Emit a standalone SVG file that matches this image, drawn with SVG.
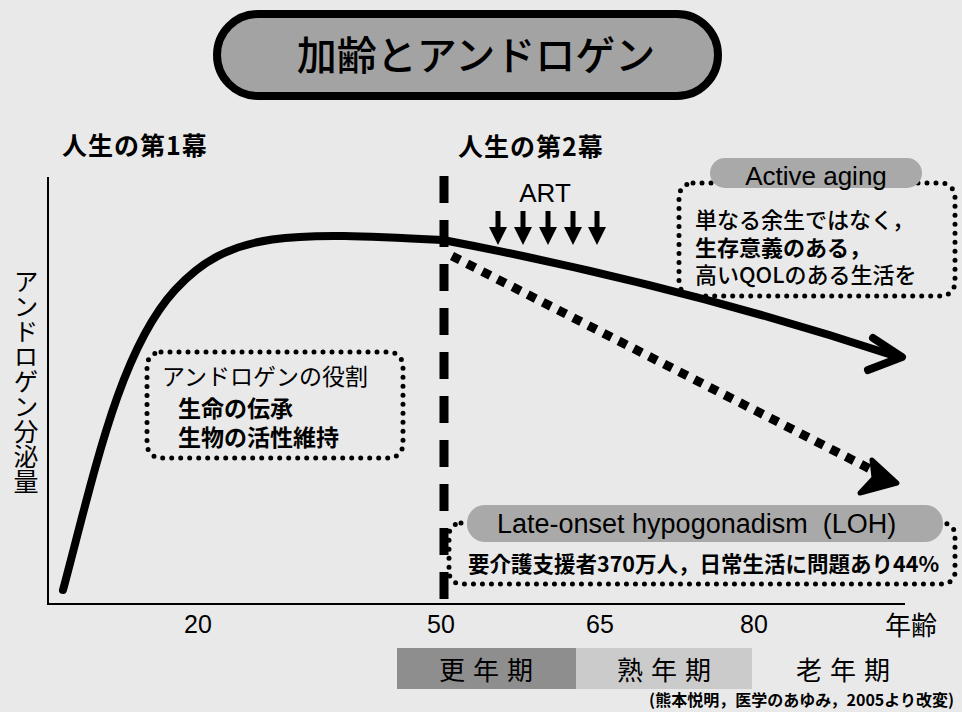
<svg xmlns="http://www.w3.org/2000/svg" width="962" height="712" viewBox="0 0 962 712">
<defs>
<style>
.jp{font-family:"Noto Sans CJK JP","Liberation Sans",sans-serif;fill:#000}
.en{font-family:"Liberation Sans",Arial,sans-serif;fill:#000}
.dot{fill:none;stroke:#000;stroke-width:5;stroke-linecap:round;stroke-dasharray:0 9}
.pill{fill:#a9a9a9}
.thick{fill:none;stroke:#000;stroke-width:8;stroke-linecap:round;stroke-linejoin:round}
</style>
<path id="darrow" d="M-2.5,0 H2.5 V16 H9 L0,34 L-9,16 H-2.5 Z" fill="#000"/>
</defs>
<rect width="962" height="712" fill="#e9e9e9"/>

<g id="title">
<rect x="217" y="14" width="501" height="82" rx="41" fill="#a3a3a3" stroke="#000" stroke-width="8"/>
<text class="jp" x="476" y="70" font-size="40" font-weight="500" text-anchor="middle">加齢とアンドロゲン</text>
</g>

<g id="axes">
<line x1="48" y1="177" x2="48" y2="604" stroke="#000" stroke-width="2"/>
<line x1="47" y1="604" x2="905" y2="604" stroke="#000" stroke-width="2"/>
<text class="jp" x="26" y="269" font-size="25" style="writing-mode:vertical-rl">アンドロゲン分泌量</text>
<text class="en" x="198" y="633" font-size="25" text-anchor="middle">20</text>
<text class="en" x="441" y="633" font-size="25" text-anchor="middle">50</text>
<text class="en" x="600" y="633" font-size="25" text-anchor="middle">65</text>
<text class="en" x="754" y="633" font-size="25" text-anchor="middle">80</text>
<text class="jp" x="885" y="635" font-size="26">年齢</text>
</g>

<g id="stage-labels">
<text class="jp" x="62" y="155" font-size="25" font-weight="bold" letter-spacing="1">人生の第1幕</text>
<text class="jp" x="458" y="156" font-size="25" font-weight="bold" letter-spacing="1">人生の第2幕</text>
</g>

<g id="divider">
<line x1="444" y1="176" x2="444" y2="600" stroke="#000" stroke-width="9" stroke-dasharray="27 17"/>
</g>

<g id="connectors">
<path class="thick" d="M63,590 C95,470 120,350 175,290 S290,232 443,240 Q680,285 895,356"/>
<polyline class="thick" points="873,338 902,357 868,370"/>
<line x1="452" y1="256" x2="880" y2="474" stroke="#000" stroke-width="9" stroke-dasharray="9 8"/>
<polygon points="872,460 897,483 860,493 874,478" fill="#000" stroke="#000" stroke-width="5" stroke-linejoin="round"/>
</g>

<g id="art">
<text class="en" x="545" y="202" font-size="26" text-anchor="middle">ART</text>
<use href="#darrow" x="498" y="211"/>
<use href="#darrow" x="523" y="211"/>
<use href="#darrow" x="548" y="211"/>
<use href="#darrow" x="573" y="211"/>
<use href="#darrow" x="597" y="211"/>
</g>

<g id="active-aging">
<rect class="dot" x="679" y="183" width="276" height="113" rx="14"/>
<rect class="pill" x="710" y="158" width="212" height="30" rx="15"/>
<text class="en" x="816" y="185" font-size="26" text-anchor="middle">Active aging</text>
<text class="jp" x="695" y="228" font-size="22" font-weight="500">単なる余生ではなく，</text>
<text class="jp" x="695" y="256" font-size="22" font-weight="bold">生存意義のある，</text>
<text class="jp" x="695" y="283" font-size="22" font-weight="500">高いQOLのある生活を</text>
</g>

<g id="androgen-role">
<rect class="dot" x="147" y="352" width="256" height="106" rx="14"/>
<text class="jp" x="162" y="385" font-size="23">アンドロゲンの役割</text>
<text class="jp" x="178" y="417" font-size="23" font-weight="bold">生命の伝承</text>
<text class="jp" x="178" y="446" font-size="23" font-weight="bold">生物の活性維持</text>
</g>

<g id="loh">
<rect class="dot" x="449" y="523" width="506" height="61" rx="12"/>
<rect class="pill" x="467" y="505" width="476" height="37" rx="18"/>
<text class="en" x="497" y="533" font-size="27" xml:space="preserve">Late-onset hypogonadism  (LOH)</text>
<text class="jp" x="468" y="572" font-size="21.5" font-weight="bold">要介護支援者370万人，日常生活に問題あり44%</text>
</g>

<g id="periods">
<rect x="397" y="648" width="179" height="41" fill="#8e8e8e"/>
<rect x="576" y="648" width="176" height="41" fill="#cbcbcb"/>
<text class="jp" x="490" y="680" font-size="26" letter-spacing="8" text-anchor="middle">更年期</text>
<text class="jp" x="668" y="680" font-size="26" letter-spacing="8" text-anchor="middle">熟年期</text>
<text class="jp" x="847" y="680" font-size="26" letter-spacing="8" text-anchor="middle">老年期</text>
</g>

<g id="citation">
<text class="jp" x="954" y="706" font-size="16" font-weight="bold" text-anchor="end">(熊本悦明，医学のあゆみ，2005より改変)</text>
</g>
</svg>
